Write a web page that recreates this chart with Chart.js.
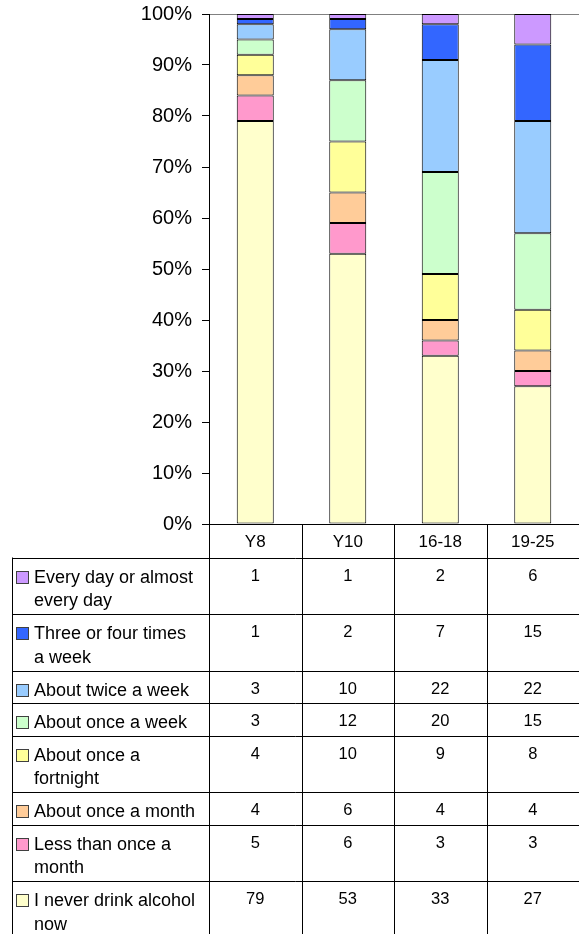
<!DOCTYPE html>
<html>
<head>
<meta charset="utf-8">
<script src="https://cdn.jsdelivr.net/npm/chart.js@4"></script>
<style>
  html, body { margin: 0; padding: 0; background: #fff; }
  #wrap { position: relative; width: 579px; height: 934px; }
</style>
</head>
<body>
<div id="wrap"><canvas id="chart"></canvas></div>
<script>
// ── Data ─────────────────────────────────────────────────────────
const groups = ['Y8', 'Y10', '16-18', '19-25'];
const seriesNames = [
  'Every day or almost every day',
  'Three or four times a week',
  'About twice a week',
  'About once a week',
  'About once a fortnight',
  'About once a month',
  'Less than once a month',
  'I never drink alcohol now'
];
const everyDay      = [1, 1, 2, 6];
const threeFour     = [1, 2, 7, 15];
const twiceWeek     = [3, 10, 22, 22];
const onceWeek      = [3, 12, 20, 15];
const onceFortnight = [4, 10, 9, 8];
const onceMonth     = [4, 6, 4, 4];
const lessMonth     = [5, 6, 3, 3];
const never         = [79, 53, 33, 27];
const seriesValues  = [everyDay, threeFour, twiceWeek, onceWeek, onceFortnight, onceMonth, lessMonth, never];
const seriesColors  = ['#CC99FF', '#3366FF', '#99CCFF', '#CCFFCC', '#FFFF99', '#FFCC99', '#FF99CC', '#FFFFCC'];
const yMax = 100, yStep = 10;

const FONT = '"Liberation Sans", Arial, Helvetica, sans-serif';

// greedy word wrap for the table's label column
function wrap(ctx, text, maxW) {
  const words = text.split(' ');
  const lines = [];
  let cur = '';
  words.forEach(w => {
    const t = cur ? cur + ' ' + w : w;
    if (cur && ctx.measureText(t).width > maxW) { lines.push(cur); cur = w; }
    else cur = t;
  });
  if (cur) lines.push(cur);
  return lines;
}

// ── Data table under the plot ────────────────────────────────────
const tablePlugin = {
  id: 'dataTable',
  afterDraw(chart) {
    const { ctx, chartArea: a, scales: { x } } = chart;
    const H = chart.height;
    const colW = (a.right - a.left) / groups.length;
    const tableLeft = 12.5;
    const px = v => Math.round(v) + 0.5;

    ctx.save();
    ctx.strokeStyle = '#000';
    ctx.lineWidth = 1;
    ctx.fillStyle = '#000';

    // header
    const headTop = a.bottom;
    const headBot = headTop + 33.5;
    ctx.font = `17px ${FONT}`;
    ctx.textAlign = 'center';
    ctx.textBaseline = 'alphabetic';
    groups.forEach((g, i) => ctx.fillText(g, x.getPixelForValue(i), headTop + 22.5));

    const hline = (y, x0, x1) => { ctx.beginPath(); ctx.moveTo(x0, px(y)); ctx.lineTo(x1, px(y)); ctx.stroke(); };
    hline(headBot, tableLeft, a.right);

    // rows
    let top = headBot;
    seriesNames.forEach((name, r) => {
      ctx.font = `18px ${FONT}`;
      const lines = wrap(ctx, name, 163);
      const h = lines.length > 1 ? 56.5 : 32.5;

      // legend key
      ctx.fillStyle = seriesColors[r];
      ctx.fillRect(16.5, Math.round(top + 13) + 0.5, 12, 12);
      ctx.strokeStyle = '#404040';
      ctx.strokeRect(16.5, Math.round(top + 13) + 0.5, 12, 12);

      ctx.fillStyle = '#000';
      ctx.strokeStyle = '#000';
      ctx.textAlign = 'left';
      lines.forEach((ln, k) => ctx.fillText(ln, 34, top + 25 + k * 23.5));

      ctx.font = `16.5px ${FONT}`;
      ctx.textAlign = 'center';
      seriesValues[r].forEach((v, i) => ctx.fillText(String(v), x.getPixelForValue(i), top + 23));

      top += h;
      if (top < H) hline(top, tableLeft, a.right);
    });

    // vertical rules
    const vline = (xx, y0, y1) => { ctx.beginPath(); ctx.moveTo(px(xx), y0); ctx.lineTo(px(xx), y1); ctx.stroke(); };
    vline(tableLeft - 0.5, headBot, H);
    for (let i = 0; i < groups.length; i++) vline(a.left + i * colW, headTop, H);

    ctx.restore();
  }
};

// ── Stacked 100% bars (bottom series first) ──────────────────────
const datasets = seriesNames.map((name, i) => ({
  label: name,
  data: seriesValues[i],
  backgroundColor: seriesColors[i],
  borderColor: '#000',
  borderWidth: 1,
  borderSkipped: false,
  inflateAmount: 0,
  categoryPercentage: 1,
  barPercentage: 0.4
})).reverse();

new Chart(document.getElementById('chart'), {
  type: 'bar',
  data: { labels: groups, datasets },
  options: {
    responsive: true,
    maintainAspectRatio: false,
    animation: false,
    layout: { padding: { top: 14, right: 0, bottom: 410, left: 0 } },
    plugins: { legend: { display: false }, tooltip: { enabled: false } },
    scales: {
      x: { display: false, stacked: true },
      y: {
        stacked: true,
        min: 0,
        max: yMax,
        afterFit: s => { s.width = 209; s.paddingTop = 0; s.paddingBottom = 0; },
        ticks: {
          stepSize: yStep,
          color: '#000',
          padding: 10,
          font: { family: FONT, size: 20 },
          callback: v => v + '%'
        },
        grid: {
          color: c => c.tick.value === yMax ? '#808080' : (c.tick.value === 0 ? '#000' : 'rgba(0,0,0,0)'),
          tickColor: '#000',
          tickLength: 7,
          lineWidth: 1
        },
        border: { color: '#000', width: 1 }
      }
    }
  },
  plugins: [tablePlugin]
});
</script>
</body>
</html>
